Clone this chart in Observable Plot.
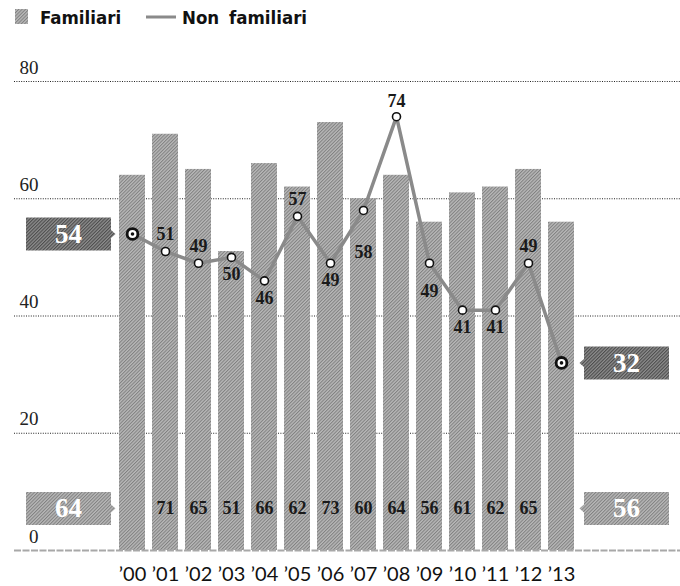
<!DOCTYPE html>
<html><head><meta charset="utf-8">
<script src="https://cdn.jsdelivr.net/npm/d3@7"></script>
<script src="https://cdn.jsdelivr.net/npm/@observablehq/plot@0.6"></script>
<style>
body{margin:0;background:#fff;}
#legend{height:34px;position:relative;font-family:"DejaVu Sans Condensed","DejaVu Sans";font-weight:bold;font-stretch:condensed;font-size:18.5px;line-height:18px;color:#111;}
#legend span{position:absolute;top:9px;white-space:nowrap;word-spacing:4px;}
#chart svg{display:block;}
</style></head><body>
<svg width="0" height="0" style="position:absolute">
  <defs>
    <pattern id="hatchLight" width="2.4" height="2.4" patternUnits="userSpaceOnUse" patternTransform="rotate(45)">
      <rect width="2.4" height="2.4" fill="#b8b8b8"/>
      <rect width="1" height="2.4" fill="#808080"/>
    </pattern>
    <pattern id="hatchDark" width="2.4" height="2.4" patternUnits="userSpaceOnUse" patternTransform="rotate(45)">
      <rect width="2.4" height="2.4" fill="#8e8e8e"/>
      <rect width="1.1" height="2.4" fill="#4c4c4c"/>
    </pattern>
  </defs>
</svg>
<div id="legend"></div>
<div id="chart"></div>
<script>
// ---- data ----
const years = ["’00","’01","’02","’03","’04","’05","’06","’07","’08","’09","’10","’11","’12","’13"];
const familiari = [64,71,65,51,66,62,73,60,64,56,61,62,65,56];
const nonFamiliari = [54,51,49,50,46,57,49,58,74,49,41,41,49,32];
const yTicks = [0,20,40,60,80];
const seriesNames = ["Familiari","Non familiari"];

// ---- legend ----
const legend = document.getElementById("legend");
legend.innerHTML =
  `<svg style="position:absolute;left:15px;top:9px" width="13" height="15"><rect width="13" height="15" fill="url(#hatchLight)"/></svg>` +
  `<span style="left:40px">${seriesNames[0]}</span>` +
  `<svg style="position:absolute;left:146px;top:15px" width="30" height="4"><rect y="0.5" width="30" height="3" fill="#8a8a8a"/></svg>` +
  `<span style="left:182px">${seriesNames[1]}</span>`;

// ---- chart ----
const data = years.map((year, i) => ({year, fam: familiari[i], non: nonFamiliari[i]}));
const first = data[0], last = data[data.length - 1];
const inner = data.slice(1, -1);

// label placement for the line values (style only)
const labelOffset = {"’01":-17,"’02":-17,"’03":17,"’04":17,"’05":-17,"’06":17,"’07":42,"’08":-15,"’09":28,"’10":17,"’11":17,"’12":-17};
const offsets = [...new Set(Object.values(labelOffset))];

const boxW = 42.5, boxH = 16.5;
const boxLeft = {draw(ctx) {
  ctx.moveTo(-boxW, -boxH); ctx.lineTo(boxW, -boxH); ctx.lineTo(boxW, -4);
  ctx.lineTo(boxW + 4.5, 0); ctx.lineTo(boxW, 4); ctx.lineTo(boxW, boxH);
  ctx.lineTo(-boxW, boxH); ctx.closePath();
}};
const boxRight = {draw(ctx) {
  ctx.moveTo(boxW, -boxH); ctx.lineTo(-boxW, -boxH); ctx.lineTo(-boxW, -4);
  ctx.lineTo(-boxW - 4.5, 0); ctx.lineTo(-boxW, 4); ctx.lineTo(-boxW, boxH);
  ctx.lineTo(boxW, boxH); ctx.closePath();
}};

const serif = "'Liberation Serif', 'DejaVu Serif', serif";
const barLabelDy = -42;

const chart = Plot.plot({
  width: 680, height: 552,
  marginLeft: 14, marginRight: 0, marginTop: 46, marginBottom: 36,
  x: {type: "band", domain: years, range: [111.7, 581.5], paddingInner: 0.2, paddingOuter: 0.1, axis: null},
  y: {domain: [0, 80], range: [516, 47], axis: null},
  style: {fontFamily: serif, background: "#fff", overflow: "visible"},
  marks: [
    Plot.ruleY(yTicks.filter(d => d > 0), {stroke: "#222", strokeWidth: 1, strokeDasharray: "1,1.4"}),
    Plot.barY(data, {x: "year", y: "fam", fill: "url(#hatchLight)"}),
    Plot.ruleY([0], {stroke: "#a8a8a8", strokeWidth: 2, strokeDasharray: "7,1.5"}),
    Plot.text(yTicks, {y: d => d, frameAnchor: "left", dx: 24, dy: -8, textAnchor: "end", lineAnchor: "bottom", fontSize: 19, fill: "#222"}),
    Plot.text(years, {x: d => d, frameAnchor: "bottom", dy: 30, lineAnchor: "bottom", fontFamily: "Lato, 'Open Sans', sans-serif", fontSize: 20, fill: "#111"}),
    // bar value labels
    Plot.text(inner, {x: "year", text: "fam", frameAnchor: "bottom", dy: barLabelDy, lineAnchor: "middle", fontSize: 18, fontWeight: "bold", fill: "#1a1a1a"}),
    // line
    Plot.line(data, {x: "year", y: "non", stroke: "#8a8a8a", strokeWidth: 3.5}),
    Plot.dot(inner, {x: "year", y: "non", r: 4, fill: "white", stroke: "#111", strokeWidth: 1.6}),
    Plot.dot([first, last], {x: "year", y: "non", r: 5.4, fill: "white", stroke: "#111", strokeWidth: 2.8}),
    Plot.dot([first, last], {x: "year", y: "non", r: 1.8, fill: "#111"}),
    ...offsets.map(o => Plot.text(inner.filter(d => labelOffset[d.year] === o), {
      x: "year", y: "non", text: "non", dy: o, lineAnchor: "middle", fontSize: 18, fontWeight: "bold", fill: "#1a1a1a"
    })),
    // callouts: Non familiari (dark) at the line point
    Plot.dot([first], {x: "year", y: "non", symbol: boxLeft, fill: "url(#hatchDark)", dx: -64}),
    Plot.dot([last], {x: "year", y: "non", symbol: boxRight, fill: "url(#hatchDark)", dx: 65}),
    Plot.text([first], {x: "year", y: "non", text: "non", dx: -64, lineAnchor: "middle", fontSize: 27, fontWeight: "bold", fill: "white"}),
    Plot.text([last], {x: "year", y: "non", text: "non", dx: 65, lineAnchor: "middle", fontSize: 27, fontWeight: "bold", fill: "white"}),
    // callouts: Familiari (light) at the bar-label level
    Plot.dot([first], {x: "year", frameAnchor: "bottom", dy: barLabelDy, symbol: boxLeft, fill: "url(#hatchLight)", dx: -64}),
    Plot.dot([last], {x: "year", frameAnchor: "bottom", dy: barLabelDy, symbol: boxRight, fill: "url(#hatchLight)", dx: 65}),
    Plot.text([first], {x: "year", text: "fam", frameAnchor: "bottom", dy: barLabelDy, dx: -64, lineAnchor: "middle", fontSize: 27, fontWeight: "bold", fill: "white"}),
    Plot.text([last], {x: "year", text: "fam", frameAnchor: "bottom", dy: barLabelDy, dx: 65, lineAnchor: "middle", fontSize: 27, fontWeight: "bold", fill: "white"})
  ]
});
document.getElementById("chart").appendChild(chart);
</script>
</body></html>
